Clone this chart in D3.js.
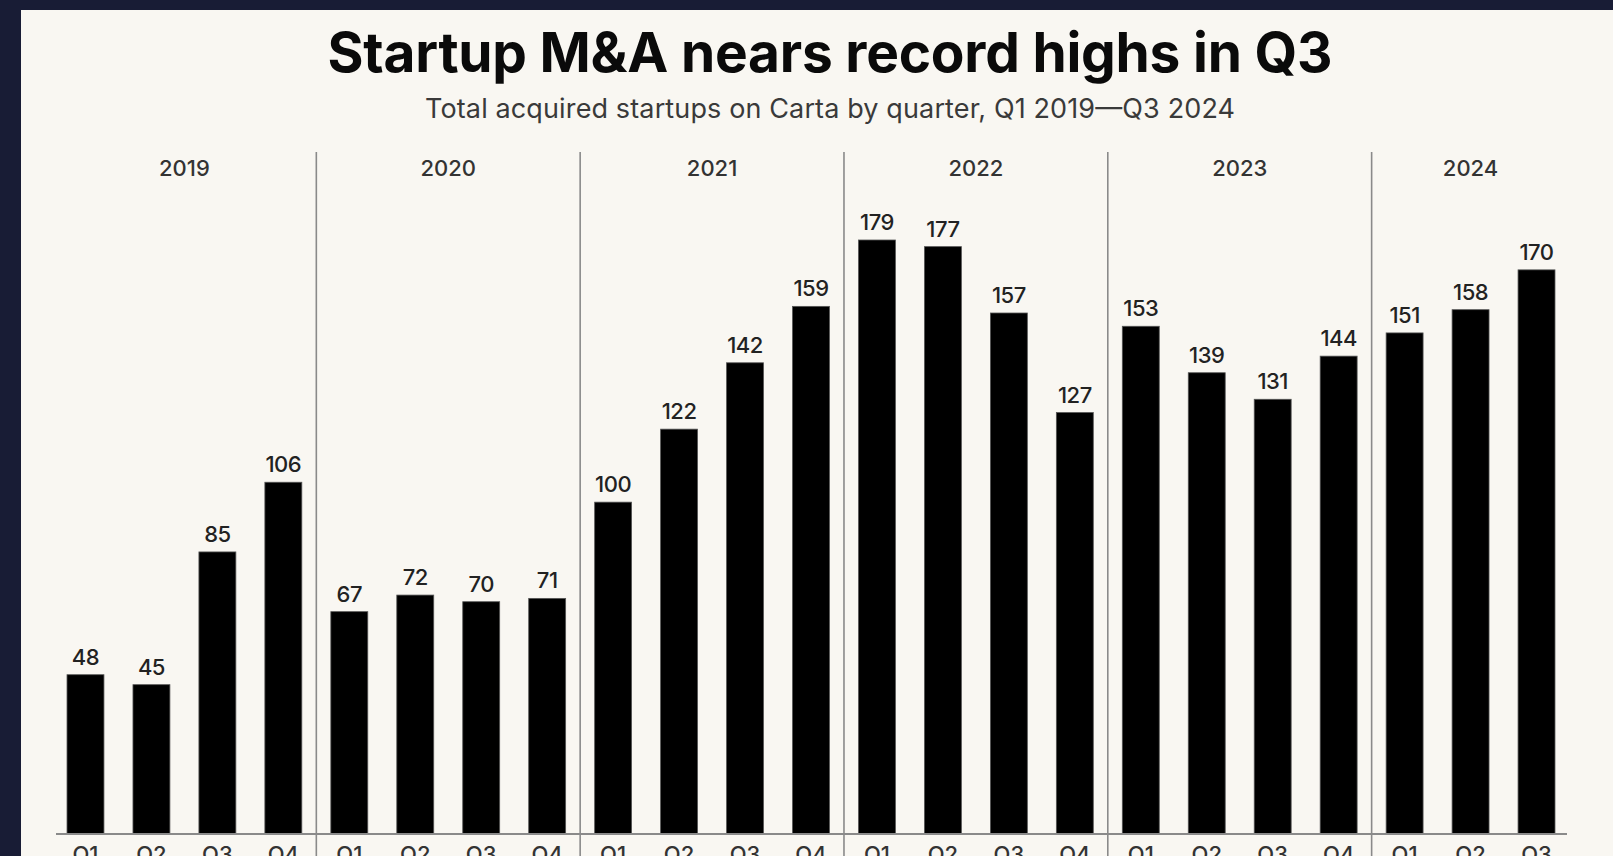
<!DOCTYPE html>
<html>
<head>
<meta charset="utf-8">
<script src="https://cdn.jsdelivr.net/npm/d3@7"></script>
<style>
  html, body { margin: 0; padding: 0; background: #181c35; overflow: hidden; }
  svg { display: block; }
  text { font-family: Inter, "Noto Sans", sans-serif; }
</style>
</head>
<body>
<svg id="chart" width="1613" height="856"></svg>
<script>
// data
var years = ["2019", "2020", "2021", "2022", "2023", "2024"];
var quarters = ["Q1", "Q2", "Q3", "Q4"];
var labels = [
  "2019Q1","2019Q2","2019Q3","2019Q4",
  "2020Q1","2020Q2","2020Q3","2020Q4",
  "2021Q1","2021Q2","2021Q3","2021Q4",
  "2022Q1","2022Q2","2022Q3","2022Q4",
  "2023Q1","2023Q2","2023Q3","2023Q4",
  "2024Q1","2024Q2","2024Q3"
];
var values = [48, 45, 85, 106, 67, 72, 70, 71, 100, 122, 142, 159,
              179, 177, 157, 127, 153, 139, 131, 144, 151, 158, 170];

var W = 1613, H = 856;
var baseY = 834;

var svg = d3.select("#chart");

// cream panel
svg.append("rect")
  .attr("x", 21).attr("y", 10)
  .attr("width", W - 21).attr("height", H - 10)
  .attr("fill", "#f9f7f2");

var x = d3.scaleBand()
  .domain(labels)
  .range([52.5, 1569.5])
  .paddingInner(0.44)
  .paddingOuter(0.22);

var y = d3.scaleLinear()
  .domain([0, 179])
  .range([baseY, 240]);

// title + subtitle
svg.append("text")
  .attr("x", 830).attr("y", 72)
  .attr("text-anchor", "middle")
  .attr("font-size", 55)
  .attr("font-weight", 700)
  .attr("fill", "#0a0a0a")
  .attr("textLength", 1005)
  .attr("lengthAdjust", "spacing")
  .text("Startup M&A nears record highs in Q3");

svg.append("text")
  .attr("x", 830).attr("y", 118)
  .attr("text-anchor", "middle")
  .attr("font-size", 27)
  .attr("fill", "#3a3a3a")
  .attr("textLength", 810)
  .attr("lengthAdjust", "spacing")
  .text("Total acquired startups on Carta by quarter, Q1 2019\u2014Q3 2024");

// year separators
var step = x.step();
years.slice(1).forEach(function(yr) {
  var sx = x(yr + "Q1") - (step - x.bandwidth()) / 2;
  svg.append("line")
    .attr("x1", sx).attr("x2", sx)
    .attr("y1", 152).attr("y2", H)
    .attr("stroke", "#8a8a8a")
    .attr("stroke-width", 1.6);
});

// year labels centred over their bars
years.forEach(function(yr) {
  var inYear = labels.filter(function(l) { return l.indexOf(yr) === 0; });
  var x0 = x(inYear[0]);
  var x1 = x(inYear[inYear.length - 1]) + x.bandwidth();
  svg.append("text")
    .attr("x", (x0 + x1) / 2).attr("y", 176)
    .attr("text-anchor", "middle")
    .attr("font-size", 22)
    .attr("font-weight", 500)
    .attr("fill", "#333")
    .text(yr);
});

// bars
svg.append("g").selectAll("rect")
  .data(values).enter().append("rect")
    .attr("x", function(d, i) { return x(labels[i]); })
    .attr("y", function(d) { return y(d); })
    .attr("width", x.bandwidth())
    .attr("height", function(d) { return baseY - y(d); })
    .attr("fill", "#000")
    .attr("stroke", "#555")
    .attr("stroke-width", 0.8);

// value labels
svg.append("g").selectAll("text")
  .data(values).enter().append("text")
    .attr("x", function(d, i) { return x(labels[i]) + x.bandwidth() / 2; })
    .attr("y", function(d) { return y(d) - 10; })
    .attr("text-anchor", "middle")
    .attr("font-size", 22)
    .attr("font-weight", 500)
    .attr("fill", "#222")
    .attr("letter-spacing", -0.5)
    .text(function(d) { return d; });

// baseline
svg.append("line")
  .attr("x1", 56).attr("x2", 1567)
  .attr("y1", baseY).attr("y2", baseY)
  .attr("stroke", "#8a8a8a")
  .attr("stroke-width", 2);

// quarter labels (cut by the bottom edge)
svg.append("g").selectAll("text")
  .data(labels).enter().append("text")
    .attr("x", function(d) { return x(d) + x.bandwidth() / 2; })
    .attr("y", 862)
    .attr("text-anchor", "middle")
    .attr("font-size", 22)
    .attr("font-weight", 500)
    .attr("fill", "#333")
    .text(function(d) { return d.slice(4); });
</script>
</body>
</html>
